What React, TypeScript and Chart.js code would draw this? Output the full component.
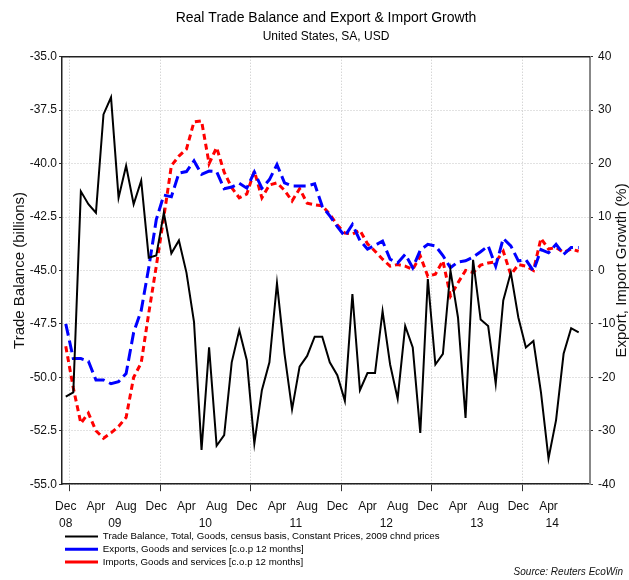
import React, { useEffect, useRef } from 'react';
import { Chart, registerables } from 'chart.js';

Chart.register(...registerables);

const FONT = "'Liberation Sans', Arial, Helvetica, sans-serif";

const categories = [
  '2008-12',
  '2009-01', '2009-02', '2009-03', '2009-04', '2009-05', '2009-06', '2009-07', '2009-08', '2009-09', '2009-10', '2009-11', '2009-12',
  '2010-01', '2010-02', '2010-03', '2010-04', '2010-05', '2010-06', '2010-07', '2010-08', '2010-09', '2010-10', '2010-11', '2010-12',
  '2011-01', '2011-02', '2011-03', '2011-04', '2011-05', '2011-06', '2011-07', '2011-08', '2011-09', '2011-10', '2011-11', '2011-12',
  '2012-01', '2012-02', '2012-03', '2012-04', '2012-05', '2012-06', '2012-07', '2012-08', '2012-09', '2012-10', '2012-11', '2012-12',
  '2013-01', '2013-02', '2013-03', '2013-04', '2013-05', '2013-06', '2013-07', '2013-08', '2013-09', '2013-10', '2013-11', '2013-12',
  '2014-01', '2014-02', '2014-03', '2014-04', '2014-05', '2014-06', '2014-07', '2014-08', '2014-09',
];

// Trade balance, billions (left axis)
const tradeBalance = [
  -50.9, -50.7, -41.3, -41.9, -42.3, -37.7, -36.9, -41.6, -40.1, -41.9,
  -40.8, -44.4, -44.3, -42.3, -44.2, -43.6, -45.1, -47.4, -53.4, -48.6,
  -53.2, -52.7, -49.3, -47.8, -49.2, -53.1, -50.6, -49.3, -45.6, -48.9,
  -51.5, -49.5, -49.0, -48.1, -48.1, -49.3, -49.9, -51.1, -46.1, -50.6,
  -49.8, -49.8, -46.9, -49.4, -51.0, -47.6, -48.6, -52.6, -45.4, -49.4,
  -48.9, -45.0, -47.2, -51.9, -44.5, -47.3, -47.6, -50.3, -46.4, -45.1,
  -47.2, -48.6, -48.3, -50.7, -53.8, -52.0, -48.9, -47.7, -47.9,
];

// Exports growth, % (right axis)
const exportsGrowth = [
  -10.0, -16.5, -16.5, -17.0, -20.5, -20.5, -21.2, -20.8, -19.3, -11.6,
  -7.5, 0.5, 9.5, 14.1, 13.8, 18.2, 18.5, 20.5, 18.0, 18.6,
  18.5, 15.3, 15.6, 16.3, 15.4, 18.4, 15.4, 17.0, 19.8, 16.4,
  15.8, 15.8, 15.8, 16.2, 12.0, 10.2, 8.2, 6.4, 8.6, 5.6,
  4.0, 4.7, 5.5, 2.1, 1.4, 3.0, 0.5, 3.8, 4.9, 4.6,
  2.8, 0.5, 1.6, 1.8, 2.5, 3.5, 4.6, 0.8, 6.0, 4.6,
  1.8, 2.0, -0.1, 3.9, 3.3, 4.9, 3.0, 4.3, 4.3,
];

// Imports growth, % (right axis)
const importsGrowth = [
  -14.2, -22.0, -28.6, -26.7, -30.0, -31.4, -30.4, -29.2, -27.5, -20.0,
  -17.3, -8.0, 0.8, 10.0, 19.6, 21.4, 22.7, 27.8, 28.0, 20.0,
  23.0, 18.4, 15.5, 13.6, 14.3, 18.6, 13.6, 16.0, 16.4, 15.0,
  13.0, 15.3, 12.6, 12.3, 12.1, 10.5, 8.5, 7.0, 6.8, 7.5,
  5.0, 3.6, 2.1, 0.8, 1.1, 0.8, 0.2, 2.7, -1.1, -0.7,
  1.8, -4.8, -2.3, 0.0, -0.4, 1.0, 1.4, 1.6, 3.6, -0.8,
  1.1, 0.8, 0.0, 6.0, 4.0, 4.3, 3.4, 4.0, 3.6,
];

const seriesNames = [
  'Trade Balance, Total, Goods, census basis, Constant Prices, 2009 chnd prices',
  'Exports, Goods and services [c.o.p 12 months]',
  'Imports, Goods and services [c.o.p 12 months]',
];

const monthTickCategories = [
  '2008-12', '2009-04', '2009-08', '2009-12', '2010-04', '2010-08', '2010-12', '2011-04', '2011-08',
  '2011-12', '2012-04', '2012-08', '2012-12', '2013-04', '2013-08', '2013-12', '2014-04',
];
const monthNames = ['Jan', 'Feb', 'Mar', 'Apr', 'May', 'Jun', 'Jul', 'Aug', 'Sep', 'Oct', 'Nov', 'Dec'];
const yearLabels = ['08', '09', '10', '11', '12', '13', '14'];

const titleText = 'Real Trade Balance and Export & Import Growth';
const subtitleText = 'United States, SA, USD';
const leftAxisTitle = 'Trade Balance (billions)';
const rightAxisTitle = 'Export, Import Growth (%)';
const sourceText = 'Source: Reuters EcoWin';

// year label sits at the centre of that year's plotted months
const yearTickValues = yearLabels.map((yy) => {
  const idx: number[] = [];
  categories.forEach((c, i) => {
    if (c.startsWith('20' + yy) && i < tradeBalance.length) idx.push(i);
  });
  return idx.reduce((a, b) => a + b, 0) / idx.length;
});

const isYearBoundary = (i: any) => typeof i === 'number' && !!categories[i] && categories[i].endsWith('-01');

const decorPlugin = {
  id: 'decor',
  afterDraw(chart: any) {
    const { ctx, chartArea } = chart;
    ctx.save();
    ctx.strokeStyle = '#222';
    ctx.lineWidth = 1.5;
    ctx.beginPath();
    ctx.moveTo(chartArea.left, chartArea.top);
    ctx.lineTo(chartArea.right, chartArea.top);
    ctx.stroke();

    const y1 = chart.scales.y1;
    ctx.fillStyle = '#111';
    ctx.font = `15px ${FONT}`;
    ctx.textAlign = 'center';
    ctx.textBaseline = 'middle';
    ctx.translate(y1.right - 7.5, (chartArea.top + chartArea.bottom) / 2);
    ctx.rotate(-Math.PI / 2);
    ctx.fillText(rightAxisTitle, 0, 0);
    ctx.restore();

    ctx.save();
    ctx.fillStyle = '#111';
    ctx.font = `italic 10px ${FONT}`;
    ctx.textAlign = 'right';
    ctx.textBaseline = 'middle';
    ctx.fillText(sourceText, chart.width - 6, chart.height - 8);
    ctx.restore();
  },
};

export default function App() {
  const ref = useRef<HTMLCanvasElement | null>(null);

  useEffect(() => {
    if (!ref.current) return;
    Chart.defaults.font.family = FONT;
    Chart.defaults.color = '#111';
    const chart = new Chart(ref.current, {
      type: 'line',
      data: {
        labels: categories,
        datasets: [
          {
            label: seriesNames[0],
            data: tradeBalance,
            xAxisID: 'x',
            yAxisID: 'y',
            borderColor: '#000000',
            backgroundColor: '#000000',
            borderWidth: 2,
            pointRadius: 0,
            tension: 0,
          },
          {
            label: seriesNames[1],
            data: exportsGrowth,
            xAxisID: 'x',
            yAxisID: 'y1',
            borderColor: '#0000ff',
            backgroundColor: '#0000ff',
            borderWidth: 3,
            borderDash: [12, 5],
            pointRadius: 0,
            tension: 0,
          },
          {
            label: seriesNames[2],
            data: importsGrowth,
            xAxisID: 'x',
            yAxisID: 'y1',
            borderColor: '#ff0000',
            backgroundColor: '#ff0000',
            borderWidth: 3,
            borderDash: [6, 4],
            pointRadius: 0,
            tension: 0,
          },
        ],
      },
      options: {
        responsive: false,
        animation: false,
        layout: { padding: { top: 0, left: 0, right: 0, bottom: 3.2 } },
        plugins: {
          tooltip: { enabled: false },
          title: {
            display: true,
            text: titleText,
            fullSize: false,
            color: '#000',
            font: { size: 14, weight: 'normal' },
            padding: { top: 10, bottom: 2 },
          },
          subtitle: {
            display: true,
            text: subtitleText,
            fullSize: false,
            color: '#000',
            font: { size: 12, weight: 'normal' },
            padding: { top: 1, bottom: 12.5 },
          },
          legend: {
            position: 'bottom',
            align: 'start',
            fullSize: false,
            labels: {
              usePointStyle: true,
              pointStyleWidth: 33,
              boxHeight: 10,
              padding: 3,
              color: '#000',
              font: { size: 9.7 },
              generateLabels: (c: any) =>
                Chart.defaults.plugins.legend.labels.generateLabels(c).map((item: any) => ({
                  ...item,
                  pointStyle: 'line',
                  text: item.text + '\u00a0'.repeat(14),
                })),
            },
          },
        },
        scales: {
          x: {
            type: 'category',
            position: 'bottom',
            offset: true,
            grid: {
              offset: true,
              color: (c: any) => (isYearBoundary(c.index) ? '#c4c4c4' : 'rgba(0,0,0,0)'),
              tickColor: (c: any) => (isYearBoundary(c.index) ? '#333' : 'rgba(0,0,0,0)'),
              tickLength: 7,
              lineWidth: 1,
            },
            border: { color: '#222', width: 1.5, dash: [1, 2] },
            ticks: {
              autoSkip: false,
              maxRotation: 0,
              minRotation: 0,
              padding: 8,
              color: '#111',
              font: { size: 12 },
              callback: (_v: any, i: number) =>
                monthTickCategories.includes(categories[i])
                  ? monthNames[Number(categories[i].slice(5)) - 1]
                  : '',
            },
            afterFit: (s: any) => {
              s.height = 29.5;
            },
          },
          xYear: {
            type: 'linear',
            position: 'bottom',
            min: -0.5,
            max: categories.length - 0.5,
            bounds: 'data',
            grid: { display: false, drawTicks: false, tickLength: 0 },
            border: { display: false },
            ticks: {
              autoSkip: false,
              maxRotation: 0,
              padding: 3,
              color: '#111',
              font: { size: 12 },
              callback: (_v: any, i: number) => yearLabels[i] ?? '',
            },
            afterBuildTicks: (s: any) => {
              s.ticks = yearTickValues.map((v) => ({ value: v }));
            },
            afterFit: (s: any) => {
              s.height = 15;
            },
          },
          y: {
            type: 'linear',
            position: 'left',
            min: -55,
            max: -35,
            ticks: {
              stepSize: 2.5,
              padding: 2,
              color: '#111',
              font: { size: 12 },
              callback: (v: any) => Number(v).toFixed(1),
            },
            grid: { color: '#c4c4c4', tickColor: '#333', tickLength: 3, lineWidth: 1 },
            border: { color: '#222', width: 1.5, dash: [1, 2] },
            title: {
              display: true,
              text: leftAxisTitle,
              color: '#111',
              font: { size: 15 },
              padding: { top: 11, bottom: 0 },
            },
            afterFit: (s: any) => {
              s.width = 62;
            },
          },
          y1: {
            type: 'linear',
            position: 'right',
            min: -40,
            max: 40,
            ticks: { stepSize: 10, padding: 5, color: '#111', font: { size: 12 } },
            grid: { drawOnChartArea: false, tickColor: '#333', tickLength: 3 },
            border: { color: '#888', width: 2 },
            afterFit: (s: any) => {
              s.width = 39;
            },
          },
        },
      } as any,
      plugins: [decorPlugin],
    });
    return () => chart.destroy();
  }, []);

  return (
    <div style={{ position: 'absolute', left: 0, top: 0, width: 629, height: 580, background: '#fff' }}>
      <canvas ref={ref} width={629} height={580} style={{ display: 'block' }} />
    </div>
  );
}
